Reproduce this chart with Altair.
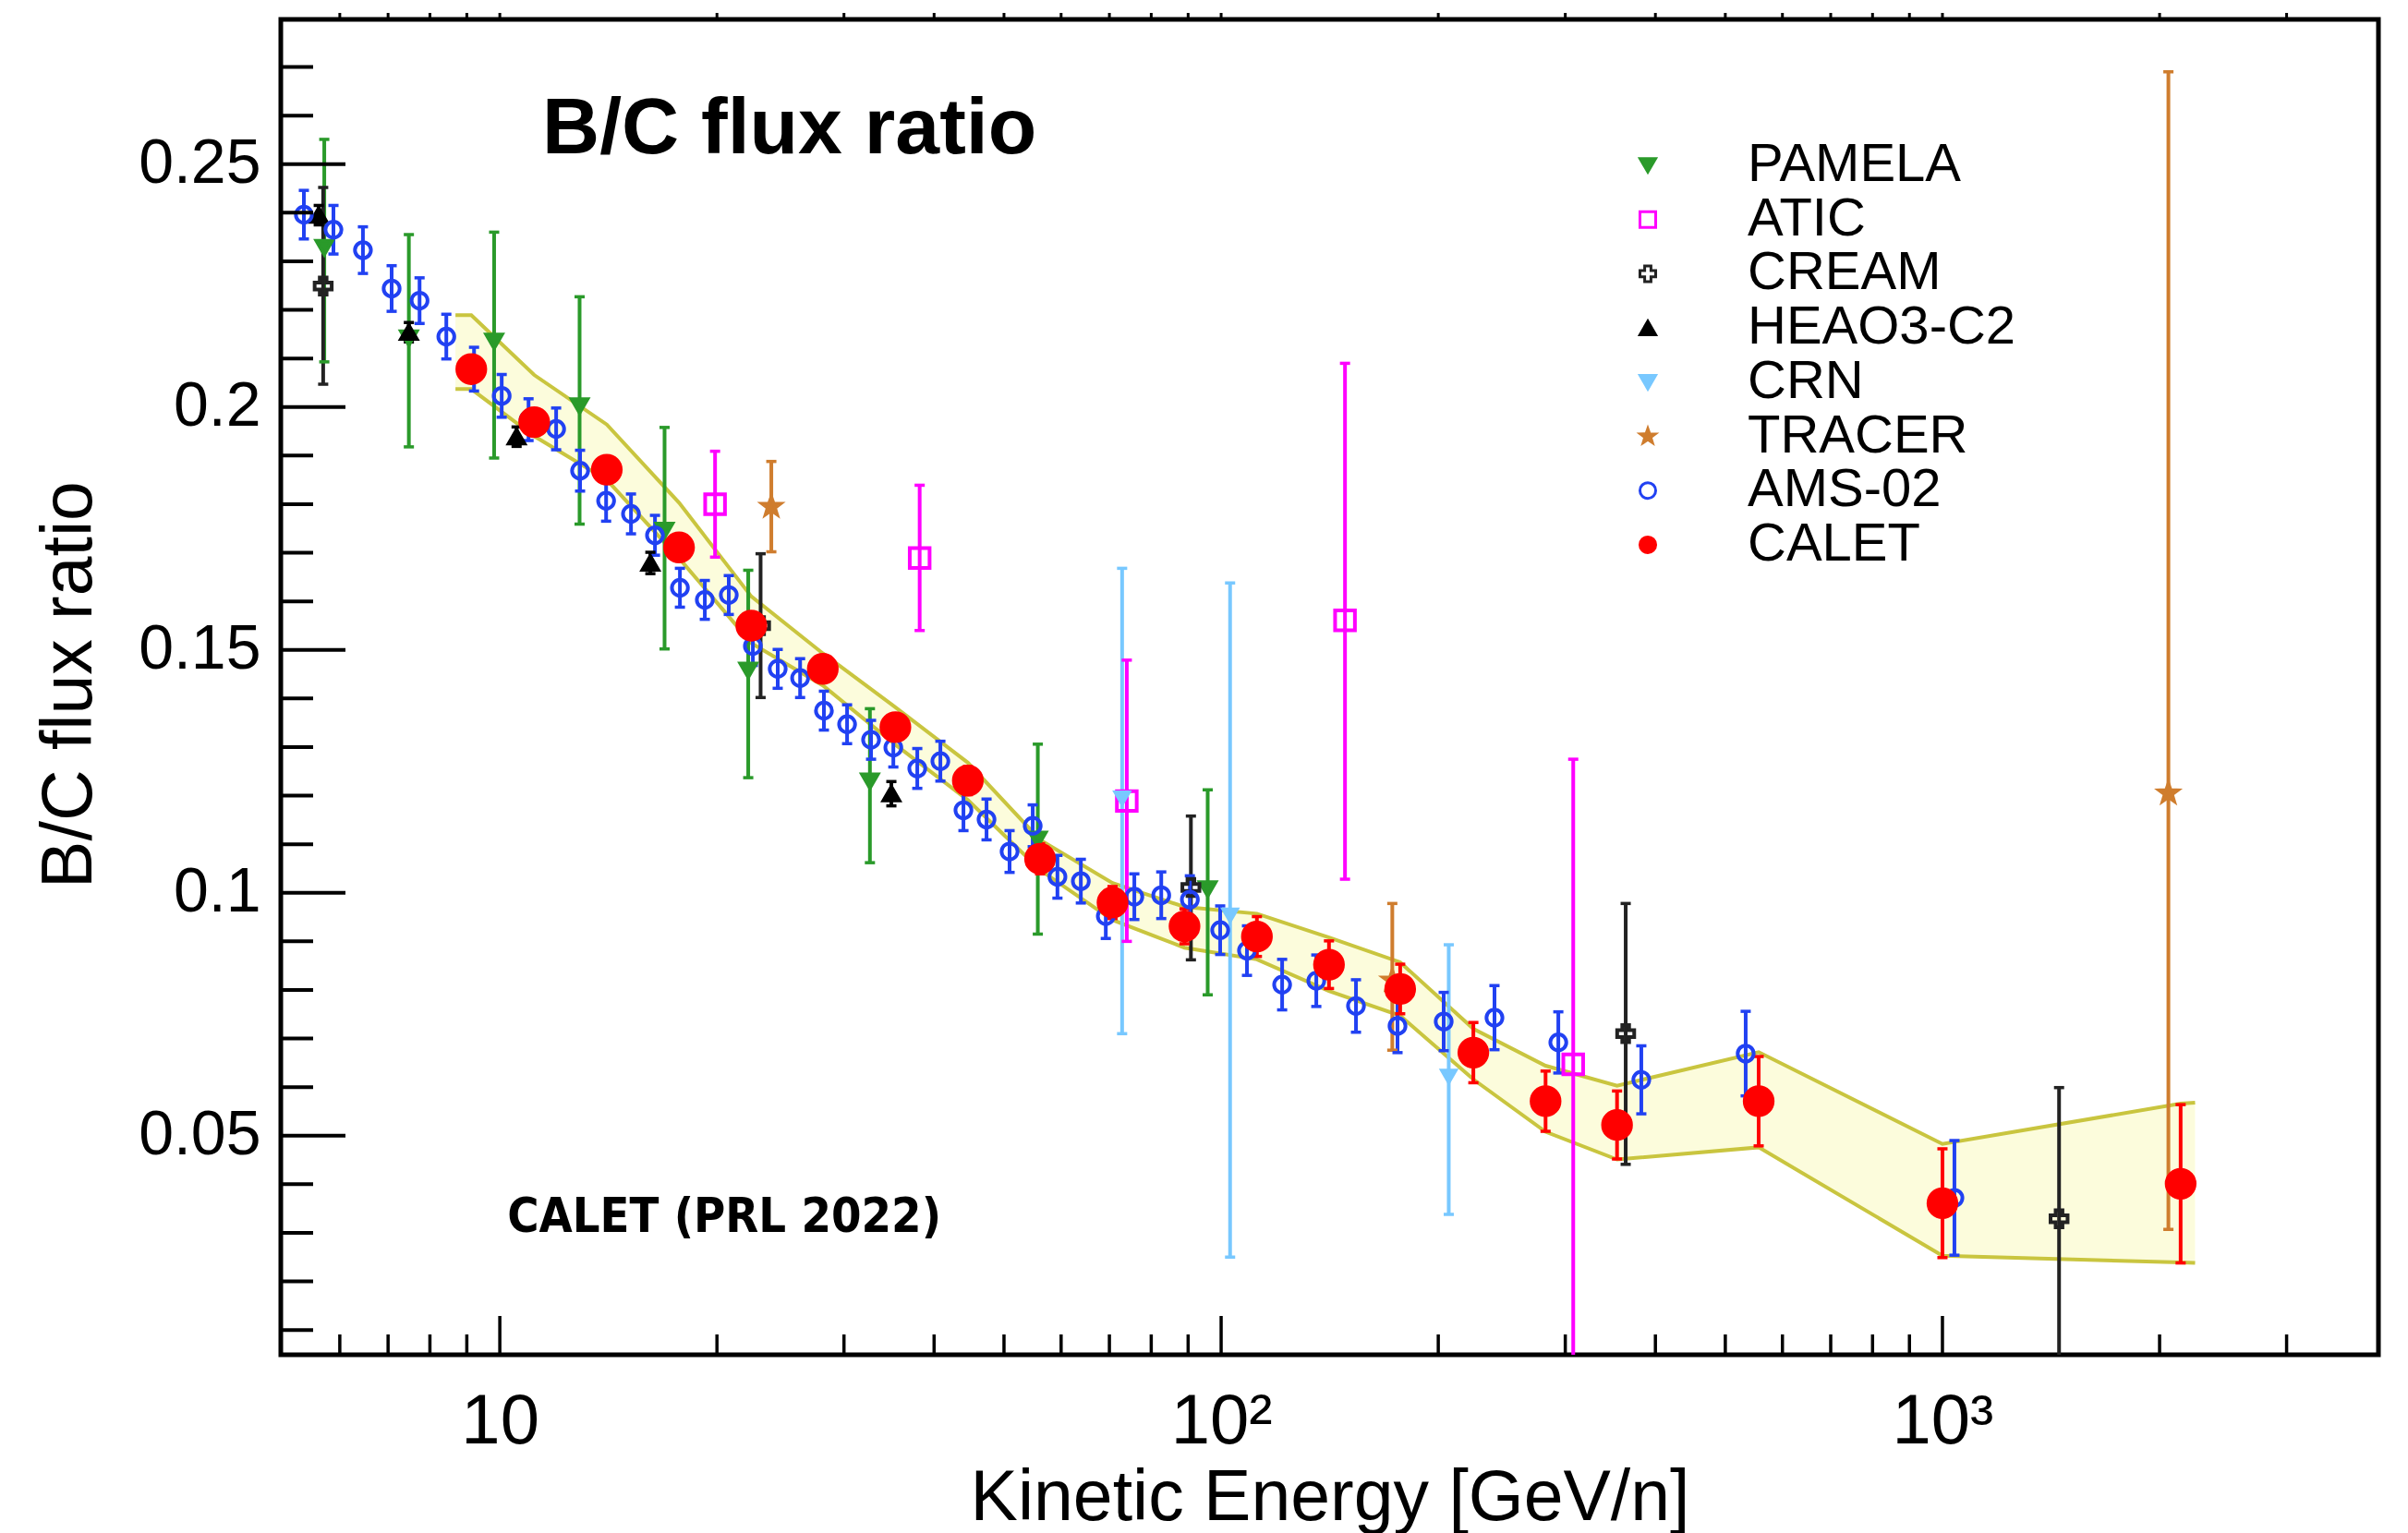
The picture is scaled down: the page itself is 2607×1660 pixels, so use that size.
import altair as alt
import pandas as pd

FONT = "Liberation Sans"
NARROW = "Liberation Sans Narrow, DejaVu Sans Condensed, Liberation Sans"

# plot-area size in pixels and axis ranges
W, H = 2271, 1446
E_DOMAIN = [4.97, 4022]
V_DOMAIN = [0.0049, 0.2798]

SERIES = ["PAMELA", "ATIC", "CREAM", "HEAO3-C2", "CRN", "TRACER", "AMS-02", "CALET"]

# ---------------- measurements: kinetic energy [GeV/n], B/C ratio, error-bar ends
PAMELA_E = [5.71, 7.48, 9.82, 12.90, 16.92, 22.10, 32.59, 55.7, 95.8]
PAMELA_V = [0.2328, 0.2142, 0.2135, 0.2002, 0.1746, 0.1458, 0.1230, 0.1110, 0.1008]
PAMELA_LO = [0.2093, 0.1918, 0.1895, 0.1759, 0.1502, 0.1237, 0.1062, 0.0915, 0.0790]
PAMELA_HI = [0.2551, 0.2355, 0.2360, 0.2227, 0.1958, 0.1664, 0.1379, 0.1306, 0.1212]

ATIC_E = [19.88, 38.2, 74.0, 148.5, 307.7]
ATIC_V = [0.1800, 0.1689, 0.1189, 0.1561, 0.0647]
ATIC_LO = [0.1691, 0.1540, 0.0900, 0.1028, 0.0000]
ATIC_HI = [0.1909, 0.1839, 0.1479, 0.2090, 0.1275]

CREAM_E = [5.69, 22.99, 90.8, 363.8, 1451]
CREAM_V = [0.2249, 0.1550, 0.1011, 0.0710, 0.0329]
CREAM_LO = [0.2047, 0.1402, 0.0862, 0.0441, 0.0000]
CREAM_HI = [0.2452, 0.1698, 0.1158, 0.0978, 0.0599]

HEAO_E = [5.61, 7.48, 10.55, 16.17, 34.9]
HEAO_V = [0.2395, 0.2154, 0.1939, 0.1679, 0.1204]
HEAO_ERR = [0.0020, 0.0020, 0.0020, 0.0022, 0.0025]

CRN_E = [72.9, 102.9, 206.8]
CRN_V = [0.1195, 0.0954, 0.0622]
CRN_LO = [0.0710, 0.0250, 0.0338]
CRN_HI = [0.1668, 0.1638, 0.0893]

TRACER_E = [23.79, 172.7, 2057]
TRACER_V = [0.1795, 0.0820, 0.1205]
TRACER_LO = [0.1702, 0.0676, 0.0307]
TRACER_HI = [0.1888, 0.0978, 0.2690]

AMS_E = [5.35, 5.88, 6.46, 7.08, 7.74, 8.43, 9.21, 10.06, 10.96, 11.97,
         12.92, 14.04, 15.20, 16.41, 17.77, 19.24, 20.77, 22.43, 24.28, 26.08,
         28.14, 30.30, 32.71, 35.12, 37.91, 40.81, 43.93, 47.29, 50.9, 54.8,
         59.3, 63.9, 69.2, 75.8, 82.6, 90.5, 99.7, 108.6, 121.5, 135.5,
         153.8, 175.6, 203.5, 239.3, 293.4, 382.4, 533.6, 1039]
AMS_V = [0.2396, 0.2365, 0.2323, 0.2244, 0.2219, 0.2145, 0.2078, 0.2023, 0.1974, 0.1955,
         0.1869, 0.1807, 0.1780, 0.1736, 0.1628, 0.1603, 0.1613, 0.1508, 0.1461, 0.1442,
         0.1375, 0.1347, 0.1315, 0.1299, 0.1256, 0.1271, 0.1170, 0.1151, 0.1085, 0.1138,
         0.1033, 0.1024, 0.0952, 0.0992, 0.0995, 0.0986, 0.0923, 0.0881, 0.0811, 0.0819,
         0.0767, 0.0726, 0.0735, 0.0743, 0.0692, 0.0615, 0.0669, 0.0372]
AMS_ERR = [0.0050, 0.0050, 0.0048, 0.0047, 0.0047, 0.0046, 0.0045, 0.0044, 0.0043, 0.0043,
           0.0042, 0.0042, 0.0041, 0.0041, 0.0040, 0.0040, 0.0040, 0.0040, 0.0040, 0.0040,
           0.0040, 0.0040, 0.0040, 0.0040, 0.0041, 0.0041, 0.0042, 0.0042, 0.0043, 0.0043,
           0.0044, 0.0045, 0.0046, 0.0047, 0.0048, 0.0049, 0.0050, 0.0051, 0.0052, 0.0053,
           0.0054, 0.0055, 0.0060, 0.0066, 0.0063, 0.0070, 0.0087, 0.0118]

CALET_E = [9.13, 11.16, 14.07, 17.72, 22.32, 28.04, 35.35, 44.55, 56.1, 70.7,
           88.97, 112.1, 141.1, 177.1, 223.7, 281.7, 353.9, 556.2, 1000, 2139]
CALET_V = [0.2078, 0.1969, 0.1871, 0.1711, 0.1550, 0.1461, 0.1341, 0.1231, 0.1070, 0.0980,
           0.0931, 0.0910, 0.0852, 0.0802, 0.0671, 0.0571, 0.0522, 0.0571, 0.0361, 0.0401]
CALET_ERR = [0.0020, 0.0020, 0.0021, 0.0022, 0.0024, 0.0025, 0.0027, 0.0029, 0.0031, 0.0033,
             0.0036, 0.0041, 0.0049, 0.0051, 0.0062, 0.0062, 0.0070, 0.0092, 0.0112, 0.0163]

# CALET systematic-uncertainty band
BAND_E = [8.68, 9.13, 11.16, 14.07, 17.72, 22.32, 28.04, 35.35, 44.55, 56.1, 70.7,
          88.97, 112.1, 141.1, 177.1, 223.7, 281.7, 353.9, 556.2, 1000, 2139, 2240]
BAND_HI = [0.2189, 0.2189, 0.2066, 0.1964, 0.1803, 0.1610, 0.1493, 0.1382, 0.1268, 0.1109, 0.1020,
           0.0971, 0.0957, 0.0908, 0.0857, 0.0720, 0.0644, 0.0603, 0.0672, 0.0483, 0.0566, 0.0568]
BAND_LO = [0.2037, 0.2037, 0.1940, 0.1850, 0.1689, 0.1514, 0.1427, 0.1305, 0.1191, 0.1047, 0.0944,
           0.0887, 0.0863, 0.0798, 0.0747, 0.0616, 0.0508, 0.0451, 0.0476, 0.0253, 0.0239, 0.0238]

# axis ticks and labels
Y_MAJOR = [0.05, 0.10, 0.15, 0.20, 0.25]
Y_MINOR = [0.01, 0.02, 0.03, 0.04, 0.06, 0.07, 0.08, 0.09, 0.11, 0.12, 0.13,
           0.14, 0.16, 0.17, 0.18, 0.19, 0.21, 0.22, 0.23, 0.24, 0.26, 0.27]
X_MAJOR = [10, 100, 1000]
X_MINOR = [6, 7, 8, 9, 20, 30, 40, 50, 60, 70, 80, 90,
           200, 300, 400, 500, 600, 700, 800, 900, 2000, 3000]
X_LABEL_EXPR = "datum.value == 10 ? '10' : datum.value == 100 ? '10\u00b2' : '10\u00b3'"

# annotation anchors (data coordinates)
TITLE_AT = (11.45, 0.2523)
PAPER_AT = (10.24, 0.0302)

# ---------------- styles
STAR = ("M0,-1L0.235,-0.324L0.951,-0.309L0.38,0.124L0.588,0.809L0,0.4"
        "L-0.588,0.809L-0.38,0.124L-0.951,-0.309L-0.235,-0.324Z")
COLORS = {"PAMELA": "#2a9a2a", "ATIC": "#ff00ff", "CREAM": "#222222", "HEAO3-C2": "#000000",
          "CRN": "#78c8ff", "TRACER": "#cf7d2e", "AMS-02": "#2141f2", "CALET": "#ff0000"}
FILLS = {"PAMELA": "#2a9a2a", "ATIC": "transparent", "CREAM": "transparent", "HEAO3-C2": "#000000",
         "CRN": "#78c8ff", "TRACER": "#cf7d2e", "AMS-02": "transparent", "CALET": "#ff0000"}
SHAPES = {"PAMELA": "triangle-down", "ATIC": "square", "CREAM": "cross", "HEAO3-C2": "triangle-up",
          "CRN": "triangle-down", "TRACER": STAR, "AMS-02": "circle", "CALET": "circle"}
SIZES = {"PAMELA": 290, "ATIC": 460, "CREAM": 340, "HEAO3-C2": 290, "CRN": 210,
         "TRACER": 420, "AMS-02": 300, "CALET": 920}
BAND_FILL = "#fcfcdc"
BAND_EDGE = "#c9c53f"


def block(name, e, v, lo, hi):
    return pd.DataFrame({"series": name, "E": e, "v": v, "lo": lo, "hi": hi})


def sym(name, e, v, err):
    return block(name, e, v, [a - b for a, b in zip(v, err)], [a + b for a, b in zip(v, err)])


pts = pd.concat([
    block("PAMELA", PAMELA_E, PAMELA_V, PAMELA_LO, PAMELA_HI),
    block("ATIC", ATIC_E, ATIC_V, ATIC_LO, ATIC_HI),
    block("CREAM", CREAM_E, CREAM_V, CREAM_LO, CREAM_HI),
    sym("HEAO3-C2", HEAO_E, HEAO_V, HEAO_ERR),
    block("CRN", CRN_E, CRN_V, CRN_LO, CRN_HI),
    block("TRACER", TRACER_E, TRACER_V, TRACER_LO, TRACER_HI),
    sym("AMS-02", AMS_E, AMS_V, AMS_ERR),
    sym("CALET", CALET_E, CALET_V, CALET_ERR),
], ignore_index=True)
pts["sz"] = pts["series"].map(SIZES)
pts["col"] = pts["series"].map(COLORS)

caps = pd.concat([
    pts[["series", "col", "E", "lo"]].rename(columns={"lo": "yc"}),
    pts[["series", "col", "E", "hi"]].rename(columns={"hi": "yc"}),
], ignore_index=True)
caps["last"] = (caps["series"] == "CALET").astype(int)
caps = caps.sort_values("last", kind="stable")

band = pd.DataFrame({"E": BAND_E, "hi": BAND_HI, "lo": BAND_LO})
band_edges = pd.concat([
    pd.DataFrame({"E": BAND_E, "v": BAND_HI, "edge": "upper"}),
    pd.DataFrame({"E": BAND_E, "v": BAND_LO, "edge": "lower"}),
], ignore_index=True)

XS = alt.Scale(type="log", domain=E_DOMAIN, nice=False)
YS = alt.Scale(domain=V_DOMAIN, nice=False, zero=False)

X_AXIS = alt.Axis(values=X_MAJOR, labelExpr=X_LABEL_EXPR, ticks=False, tickSize=0, domain=False,
                  grid=False, labelFont=FONT, labelFontSize=76, labelPadding=35, labelColor="black",
                  labelFlush=False, labelOverlap=False, title="Kinetic Energy [GeV/n]",
                  titleFont=FONT, titleFontSize=77, titleFontWeight="normal", titleColor="black",
                  titleY=178, titleBaseline="alphabetic")
Y_AXIS = alt.Axis(values=Y_MAJOR, format=".2~f", ticks=False, tickSize=0, domain=False, grid=False,
                  labelFont=FONT, labelFontSize=68, labelPadding=22, labelColor="black",
                  labelFlush=False, labelOverlap=False, title="B/C flux ratio",
                  titleFont=FONT, titleFontSize=77, titleFontWeight="normal", titleColor="black",
                  titleAngle=270, titleX=-206, titleY=720, titleAlign="center",
                  titleBaseline="alphabetic")


def xq(f):
    return alt.X(f"{f}:Q", scale=XS, axis=X_AXIS)


def yq(f):
    return alt.Y(f"{f}:Q", scale=YS, axis=Y_AXIS)


def scale_of(mapping):
    return alt.Scale(domain=SERIES, range=[mapping[s] for s in SERIES])


band_area = alt.Chart(band).mark_area(color=BAND_FILL, opacity=1, clip=True).encode(
    x=xq("E"), y=yq("hi"), y2=alt.Y2("lo:Q"),
)

band_lines = alt.Chart(band_edges).mark_line(color=BAND_EDGE, strokeWidth=4, clip=True).encode(
    x=xq("E"), y=yq("v"), detail="edge:N"
)

# error bars take their colour straight from the table
err_color = alt.Color("col:N", scale=None)

err_bars = alt.Chart(pts).mark_rule(strokeWidth=4, clip=True).encode(
    x=xq("E"), y=yq("lo"), y2=alt.Y2("hi:Q"), color=err_color
)

err_caps = alt.Chart(caps).mark_tick(orient="horizontal", thickness=3.5, size=11, clip=True,
                                     opacity=1).encode(
    x=xq("E"), y=yq("yc"), color=err_color
)

legend = alt.Legend(title=None, orient="none", legendX=1451, legendY=129, direction="vertical",
                    padding=0, labelFont=FONT, labelFontSize=58, labelColor="black",
                    labelLimit=900, labelOffset=79, rowPadding=0.7, symbolStrokeWidth=3,
                    symbolOffset=0, symbolOpacity=1, symbolSize=290)

points = alt.Chart(pts).mark_point(opacity=1, strokeWidth=4, clip=True).encode(
    x=xq("E"), y=yq("v"),
    shape=alt.Shape("series:N", scale=scale_of(SHAPES), legend=legend),
    stroke=alt.Stroke("series:N", scale=scale_of(COLORS), legend=legend),
    fill=alt.Fill("series:N", scale=scale_of(FILLS), legend=legend),
    size=alt.Size("sz:Q", scale=None),
)

# inward tick marks on the frame
y_major = alt.Chart(pd.DataFrame({"t": Y_MAJOR})).mark_rule(color="black", strokeWidth=4).encode(
    y=yq("t"), x=alt.value(0), x2=alt.value(70))
y_minor = alt.Chart(pd.DataFrame({"t": Y_MINOR})).mark_rule(color="black", strokeWidth=4).encode(
    y=yq("t"), x=alt.value(0), x2=alt.value(35))
x_major = alt.Chart(pd.DataFrame({"t": X_MAJOR})).mark_rule(color="black", strokeWidth=3.5).encode(
    x=xq("t"), y=alt.value(H), y2=alt.value(H - 42))
x_minor = alt.Chart(pd.DataFrame({"t": X_MINOR})).mark_rule(color="black", strokeWidth=3.5).encode(
    x=xq("t"), y=alt.value(H), y2=alt.value(H - 22))
x_top = alt.Chart(pd.DataFrame({"t": X_MAJOR + X_MINOR})).mark_rule(color="black", strokeWidth=3).encode(
    x=xq("t"), y=alt.value(0), y2=alt.value(-7))

title_txt = alt.Chart(pd.DataFrame({"E": [TITLE_AT[0]], "v": [TITLE_AT[1]], "txt": ["B/C flux ratio"]})
                      ).mark_text(align="left", baseline="alphabetic", font=FONT, fontSize=86,
                                  fontWeight="bold", color="black").encode(
    x=xq("E"), y=yq("v"), text="txt:N")
paper_txt = alt.Chart(pd.DataFrame({"E": [PAPER_AT[0]], "v": [PAPER_AT[1]], "txt": ["CALET (PRL 2022)"]})
                      ).mark_text(align="left", baseline="alphabetic", font=NARROW, fontSize=52,
                                  fontWeight="bold", color="black").encode(
    x=xq("E"), y=yq("v"), text="txt:N")

chart = alt.layer(
    band_area, band_lines, err_bars, err_caps, points,
    y_major, y_minor, x_major, x_minor, x_top, title_txt, paper_txt,
).properties(
    width=W, height=H,
    padding={"left": 304, "top": 21, "right": 32, "bottom": 193},
    autosize=alt.AutoSizeParams(type="none"),
    background="white",
).configure_view(stroke="black", strokeWidth=5)

chart.save("out.html", embed_options={"renderer": "svg", "actions": False})
